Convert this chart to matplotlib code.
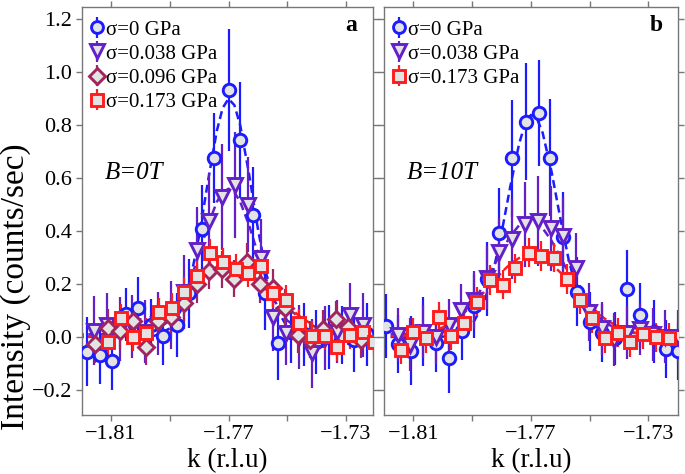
import matplotlib
matplotlib.use('Agg')
import matplotlib.pyplot as plt

plt.rcParams['font.family'] = ['Liberation Serif', 'DejaVu Serif']

# ---------------- data: panel a (B = 0 T) ----------------
A_K_BLUE = [-1.8183, -1.8137, -1.8096, -1.8050, -1.8007, -1.7964, -1.7922, -1.7876, -1.7834, -1.7790,
            -1.7749, -1.7700, -1.7660, -1.7616, -1.7575, -1.7530, -1.7487, -1.7443, -1.7401, -1.7357,
            -1.7314, -1.7271, -1.7228]
A_I_BLUE = [-0.056, -0.068, -0.090, 0.086, 0.108, 0.045, 0.004, 0.045, 0.165, 0.406,
            0.675, 0.933, 0.745, 0.461, 0.165, -0.023, 0.020, 0.010, -0.020, 0.000,
            0.008, -0.012, 0.010]
A_E_BLUE = [0.13, 0.11, 0.11, 0.10, 0.12, 0.10, 0.11, 0.12, 0.13, 0.17,
            0.17, 0.23, 0.22, 0.18, 0.14, 0.14, 0.12, 0.12, 0.12, 0.12,
            0.11, 0.12, 0.12]

A_K_PURPLE = [-1.8158, -1.8114, -1.8070, -1.8027, -1.7983, -1.7940, -1.7896, -1.7852, -1.7809, -1.7765,
              -1.7721, -1.7678, -1.7634, -1.7591, -1.7547, -1.7503, -1.7460, -1.7416, -1.7373, -1.7329,
              -1.7285, -1.7242]
A_I_PURPLE = [0.023, 0.045, 0.030, 0.040, 0.020, 0.050, 0.083, 0.170, 0.330, 0.440,
              0.530, 0.575, 0.500, 0.297, 0.076, 0.015, 0.000, -0.062, -0.004, 0.020,
              0.083, 0.045]
A_E_PURPLE = [0.13, 0.12, 0.12, 0.12, 0.12, 0.12, 0.13, 0.14, 0.16, 0.18,
              0.20, 0.20, 0.18, 0.15, 0.13, 0.12, 0.12, 0.13, 0.12, 0.12,
              0.12, 0.12]

A_K_MAROON = [-1.8155, -1.8111, -1.8068, -1.8025, -1.7982, -1.7939, -1.7896, -1.7852, -1.7809, -1.7766,
              -1.7723, -1.7680, -1.7637, -1.7593, -1.7550, -1.7507, -1.7464, -1.7421, -1.7378, -1.7334,
              -1.7292, -1.7248]
A_I_MAROON = [-0.028, 0.034, 0.023, 0.060, -0.037, 0.060, 0.075, 0.130, 0.200, 0.250,
              0.255, 0.220, 0.285, 0.200, 0.185, 0.110, 0.008, -0.010, 0.030, 0.066,
              0.039, -0.010]
A_E_MAROON = [0.07] * 22

A_K_RED = [-1.8109, -1.8066, -1.8024, -1.7981, -1.7936, -1.7893, -1.7850, -1.7808, -1.7763, -1.7719,
           -1.7676, -1.7632, -1.7589, -1.7547, -1.7504, -1.7459, -1.7416, -1.7373, -1.7329, -1.7286,
           -1.7242, -1.7206]
A_I_RED = [-0.018, 0.071, 0.001, 0.016, 0.093, 0.111, 0.171, 0.231, 0.316, 0.282,
           0.257, 0.243, 0.268, 0.165, 0.140, 0.052, 0.005, 0.004, -0.037, 0.008,
           0.018, -0.018]
A_E_RED = [0.055] * 22

# ---------------- data: panel b (B = 10 T) ----------------
B_K_BLUE = [-1.8193, -1.8151, -1.8108, -1.8066, -1.8023, -1.7978, -1.7935, -1.7892, -1.7850, -1.7807,
            -1.7763, -1.7717, -1.7674, -1.7634, -1.7589, -1.7543, -1.7500, -1.7458, -1.7413, -1.7371,
            -1.7328, -1.7282, -1.7240, -1.7199]
B_I_BLUE = [0.042, -0.026, -0.052, 0.020, -0.022, -0.081, 0.023, 0.117, 0.218, 0.394,
            0.675, 0.814, 0.845, 0.678, 0.377, 0.171, 0.058, 0.016, -0.005, 0.180,
            0.083, 0.020, -0.047, -0.052]
B_E_BLUE = [0.12, 0.11, 0.13, 0.13, 0.11, 0.13, 0.11, 0.12, 0.14, 0.17,
            0.22, 0.22, 0.20, 0.22, 0.17, 0.13, 0.11, 0.11, 0.10, 0.15,
            0.12, 0.12, 0.11, 0.11]

B_K_PURPLE = [-1.8154, -1.8111, -1.8067, -1.8024, -1.7980, -1.7937, -1.7893, -1.7850, -1.7807, -1.7763,
              -1.7720, -1.7676, -1.7633, -1.7589, -1.7546, -1.7502, -1.7459, -1.7416, -1.7372, -1.7329,
              -1.7285, -1.7242, -1.7198]
B_I_PURPLE = [0.008, -0.030, 0.020, -0.001, 0.045, 0.100, 0.140, 0.224, 0.320, 0.370,
              0.425, 0.438, 0.410, 0.380, 0.262, 0.095, 0.033, -0.010, 0.016, 0.030,
              0.010, 0.000, 0.000]
B_E_PURPLE = [0.10, 0.10, 0.10, 0.10, 0.10, 0.10, 0.11, 0.12, 0.13, 0.15,
              0.16, 0.17, 0.16, 0.15, 0.13, 0.11, 0.10, 0.10, 0.10, 0.10,
              0.10, 0.10, 0.10]

B_K_RED = [-1.8143, -1.8100, -1.8057, -1.8012, -1.7972, -1.7926, -1.7882, -1.7839, -1.7795, -1.7753,
           -1.7708, -1.7665, -1.7620, -1.7577, -1.7534, -1.7491, -1.7448, -1.7405, -1.7362, -1.7318,
           -1.7274, -1.7231]
B_I_RED = [-0.049, 0.018, -0.005, 0.077, 0.005, 0.052, 0.133, 0.215, 0.197, 0.260,
           0.319, 0.306, 0.300, 0.219, 0.140, 0.071, -0.005, 0.016, -0.020, 0.010,
           -0.001, -0.004]
B_E_RED = [0.055] * 22

# ---------------- fitted curves ----------------
FIT_K = [-1.822, -1.810, -1.805, -1.800, -1.795, -1.790, -1.786, -1.783, -1.780, -1.777,
         -1.774, -1.772, -1.770, -1.768, -1.766, -1.763, -1.760, -1.757, -1.754, -1.750,
         -1.745, -1.740, -1.735, -1.730, -1.718]
A_FIT_BLUE = [0.0, 0.0, 0.0, 0.0, 0.005, 0.032, 0.104, 0.215, 0.383, 0.588,
              0.778, 0.865, 0.900, 0.876, 0.799, 0.615, 0.409, 0.233, 0.116, 0.036,
              0.006, 0.001, 0.0, 0.0, 0.0]
A_FIT_PURPLE = [0.010, 0.010, 0.010, 0.013, 0.024, 0.062, 0.131, 0.213, 0.315, 0.422,
                0.510, 0.547, 0.560, 0.547, 0.510, 0.422, 0.315, 0.213, 0.131, 0.062,
                0.024, 0.013, 0.010, 0.010, 0.010]
A_FIT_MAROON = [0.000, 0.005, 0.012, 0.026, 0.052, 0.091, 0.131, 0.164, 0.195, 0.223,
                0.246, 0.255, 0.260, 0.260, 0.255, 0.239, 0.215, 0.185, 0.153, 0.110,
                0.066, 0.035, 0.017, 0.007, 0.001]
A_FIT_RED = [0.000, 0.005, 0.013, 0.028, 0.056, 0.098, 0.141, 0.176, 0.210, 0.240,
             0.264, 0.274, 0.280, 0.280, 0.274, 0.257, 0.231, 0.199, 0.164, 0.118,
             0.071, 0.038, 0.018, 0.008, 0.001]
B_FIT_BLUE = [0.0, 0.0, 0.0, 0.001, 0.009, 0.046, 0.128, 0.238, 0.392, 0.569,
              0.730, 0.805, 0.839, 0.827, 0.772, 0.627, 0.450, 0.285, 0.159, 0.060,
              0.013, 0.002, 0.0, 0.0, 0.0]
B_FIT_PURPLE = [0.010, 0.012, 0.017, 0.031, 0.063, 0.125, 0.197, 0.260, 0.324, 0.381,
                0.422, 0.437, 0.440, 0.431, 0.411, 0.364, 0.303, 0.238, 0.177, 0.110,
                0.055, 0.027, 0.015, 0.011, 0.010]
B_FIT_RED = [0.000, 0.007, 0.017, 0.036, 0.070, 0.120, 0.169, 0.207, 0.244, 0.276,
             0.298, 0.307, 0.310, 0.307, 0.298, 0.276, 0.244, 0.207, 0.169, 0.120,
             0.070, 0.036, 0.017, 0.007, 0.000]

LABELS = ['σ=0 GPa', 'σ=0.038 GPa', 'σ=0.096 GPa', 'σ=0.173 GPa']
PANEL_TAGS = ['a', 'b']
FIELD_TEXT = ['B=0T', 'B=10T']
X_TICKS = [-1.81, -1.79, -1.77, -1.75, -1.73]
X_TICK_LABELS = ['\u22121.81', '', '\u22121.77', '', '\u22121.73']
Y_TICKS = [-0.2, 0.0, 0.2, 0.4, 0.6, 0.8, 1.0, 1.2]
X_LABEL = 'k (r.l.u)'
Y_LABEL = 'Intensity (counts/sec)'

# ---------------- styles ----------------
STY = {
    'blue': dict(color='#1c1cff', marker='o', ms=9.0),
    'purple': dict(color='#6420c8', marker='v', ms=10.5),
    'maroon': dict(color='#a2245e', marker='D', ms=8.5),
    'red': dict(color='#ff1c1c', marker='s', ms=9.0),
}
FACE = '#e3e3e3'
SPINE = '#777777'

fig = plt.figure(figsize=(6.85, 4.74), dpi=100)
axa = fig.add_axes([0.1197, 0.1245, 0.4248, 0.8608])
axb = fig.add_axes([0.5606, 0.1245, 0.4292, 0.8608])


def draw(ax, key, k, i, e, fit, label):
    s = STY[key]
    ax.plot(FIT_K, fit, ls='--', color=s['color'], lw=1.8, dashes=(3.2, 1.8), zorder=2)
    h = ax.errorbar(k, i, yerr=e, ls='none', marker=s['marker'], ms=s['ms'],
                    mfc=FACE, mec=s['color'], mew=2.1, ecolor=s['color'],
                    elinewidth=1.6, capsize=0, label=label, zorder=3)
    return h


draw(axa, 'blue', A_K_BLUE, A_I_BLUE, A_E_BLUE, A_FIT_BLUE, LABELS[0])
draw(axa, 'purple', A_K_PURPLE, A_I_PURPLE, A_E_PURPLE, A_FIT_PURPLE, LABELS[1])
draw(axa, 'maroon', A_K_MAROON, A_I_MAROON, A_E_MAROON, A_FIT_MAROON, LABELS[2])
draw(axa, 'red', A_K_RED, A_I_RED, A_E_RED, A_FIT_RED, LABELS[3])

draw(axb, 'blue', B_K_BLUE, B_I_BLUE, B_E_BLUE, B_FIT_BLUE, LABELS[0])
draw(axb, 'purple', B_K_PURPLE, B_I_PURPLE, B_E_PURPLE, B_FIT_PURPLE, LABELS[1])
draw(axb, 'red', B_K_RED, B_I_RED, B_E_RED, B_FIT_RED, LABELS[3])

for idx, ax in enumerate([axa, axb]):
    ax.set_ylim(-0.295, 1.247)
    ax.set_yticks(Y_TICKS)
    ax.set_xticks(X_TICKS)
    ax.set_xticklabels(X_TICK_LABELS)
    ax.tick_params(direction='out', length=4, width=1.0, color=SPINE,
                   labelsize=16, top=True, right=True, pad=3)
    for sp in ax.spines.values():
        sp.set_color(SPINE)
        sp.set_linewidth(1.0)
    ax.set_xlabel(X_LABEL, fontsize=19.5, labelpad=3)
    ax.legend(loc='upper left', bbox_to_anchor=(0.0, 0.9897), frameon=False,
              fontsize=15, handlelength=0.6, handletextpad=0.13,
              labelspacing=0.22, borderaxespad=0.42, borderpad=0.0,
              numpoints=1, markerscale=0.95)
    ax.text(0.925, 0.955, PANEL_TAGS[idx], transform=ax.transAxes, ha='center',
            va='center', fontsize=17, fontweight='bold')
    ax.text(0.079, 0.593, FIELD_TEXT[idx], transform=ax.transAxes, ha='left',
            va='center', fontsize=18, fontstyle='italic')

axa.set_xlim(-1.8199, -1.7208)
axb.set_xlim(-1.8200, -1.7199)
axb.tick_params(labelleft=False)
fig.text(0.023, 0.395, Y_LABEL, rotation=90, ha='center', va='center', fontsize=24)

fig.savefig('out.png', dpi=100)
